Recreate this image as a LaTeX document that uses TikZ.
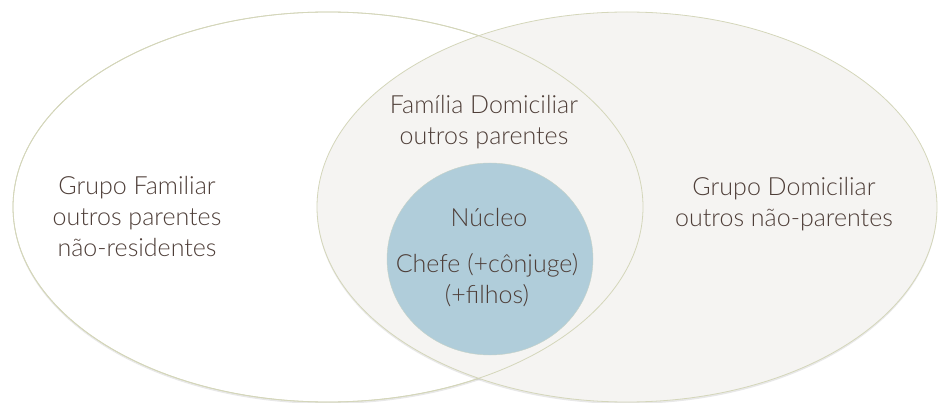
\documentclass[tikz,border=0pt]{standalone}
\usepackage{fontspec}
\setmainfont{Lato Light}
\usetikzlibrary{shapes.geometric,shadows}
\definecolor{rim}{RGB}{212,214,186}
\definecolor{paper}{RGB}{245,244,242}
\definecolor{core}{RGB}{176,205,218}
\definecolor{ink}{RGB}{78,62,56}

\begin{document}
\begin{tikzpicture}[x=1pt,y=-1pt,
    set/.style={ellipse, draw=rim, line width=0.8pt, inner sep=0pt,
        drop shadow={opacity=0.18, shadow xshift=0pt, shadow yshift=-2pt}},
    txt/.style={text=ink, align=center, font=\fontsize{25}{31}\selectfont}]
    \useasboundingbox (0,0) rectangle (939,403);

    \node[set, fill=white, minimum width=630pt, minimum height=390pt] at (328,207) (familiar) {};
    \node[set, fill=paper, minimum width=620pt, minimum height=390pt] at (627,207) (domiciliar) {};
    \draw[rim, line width=0.8pt] (familiar.center) ellipse [x radius=315, y radius=195];
    \node[ellipse, draw=rim!60!core, fill=core, inner sep=0pt, minimum width=206pt, minimum height=192pt] at (490,259) (nucleo) {};

    \node[txt] at (137,217) (lblfam) {Grupo Familiar\\outros parentes\\não-residentes};
    \node[txt] at (484,122) (lblfd) {Família Domiciliar\\outros parentes};
    \node[txt] at (489,218) (lblnuc) {Núcleo};
    \node[txt] at (487,280) (lblchefe) {Chefe (+cônjuge)\\(+filhos)};
    \node[txt] at (784,204) (lblgd) {Grupo Domiciliar\\outros não-parentes};
\end{tikzpicture}
\end{document}
